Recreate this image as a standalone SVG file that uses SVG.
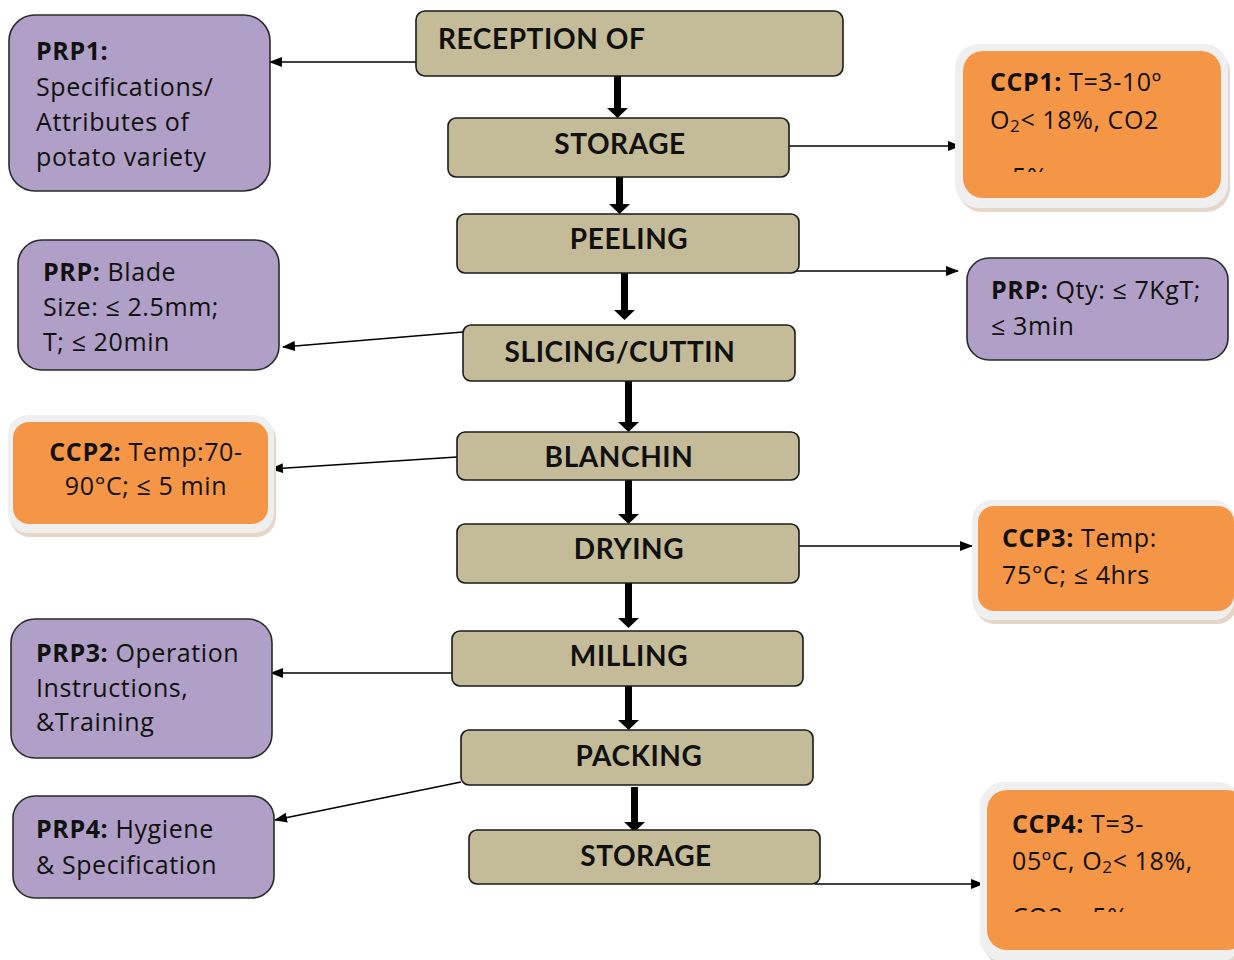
<svg xmlns="http://www.w3.org/2000/svg" width="1234" height="960" viewBox="0 0 1234 960">
  <style>
    .step rect { fill: #C4BC98; stroke: #1a1a1a; stroke-width: 1.6; }
    .step text { font-family: Lato, "DejaVu Sans", sans-serif; font-weight: 700; font-size: 28px; letter-spacing: 0.6px; fill: #111; text-anchor: middle; }
    .prp rect { fill: #B09FC6; stroke: #2a2a2a; stroke-width: 1.6; }
    .ccp .frame { fill: #EFEFEF; }
    .ccp .shade { fill: #E6D6C8; }
    .ccp .core { fill: #F59646; }
    .note { font-family: "Open Sans", Lato, sans-serif; font-size: 25px; letter-spacing: 0.6px; fill: #111; }
    .note .b { font-weight: 700; }
    .thin { stroke: #000; stroke-width: 1.6; fill: none; marker-end: url(#tip); }
    .flow { fill: #000; }
  </style>
  <defs>
    <marker id="tip" viewBox="0 0 13 10" refX="12" refY="5" markerWidth="13" markerHeight="10" markerUnits="userSpaceOnUse" orient="auto">
      <path d="M0,0 L13,5 L0,10 z" fill="#000"/>
    </marker>
    <clipPath id="cut1"><rect x="980" y="160" width="200" height="12"/></clipPath>
    <clipPath id="cut4"><rect x="1000" y="900" width="200" height="12"/></clipPath>
  </defs>

  <rect width="1234" height="960" fill="#fff"/>

  <!-- connectors -->
  <g id="connectors">
    <!-- thick process arrows -->
    <g class="flow">
      <path d="M614,69 h7 v39 h7 l-10.5,10 l-10.5,-10 h7 z"/>
      <path d="M616,177 h7 v27 h7 l-10.5,10 l-10.5,-10 h7 z"/>
      <path d="M621,273 h7 v37 h7 l-10.5,10 l-10.5,-10 h7 z"/>
      <path d="M625,381 h7 v41 h7 l-10.5,10 l-10.5,-10 h7 z"/>
      <path d="M625,480 h7 v34 h7 l-10.5,10 l-10.5,-10 h7 z"/>
      <path d="M625,583 h7 v35 h7 l-10.5,10 l-10.5,-10 h7 z"/>
      <path d="M625,686 h7 v34 h7 l-10.5,10 l-10.5,-10 h7 z"/>
      <path d="M631,787 h7 v35 h7 l-10.5,10 l-10.5,-10 h7 z"/>
    </g>
    <!-- links to control points -->
    <line class="thin" x1="416" y1="62" x2="270" y2="62"/>
    <line class="thin" x1="789" y1="146" x2="960" y2="146"/>
    <line class="thin" x1="787" y1="271" x2="958" y2="271"/>
    <line class="thin" x1="463" y1="332" x2="283" y2="347"/>
    <line class="thin" x1="457" y1="457" x2="271" y2="469"/>
    <line class="thin" x1="799" y1="546" x2="972" y2="546"/>
    <line class="thin" x1="452" y1="673" x2="271" y2="673"/>
    <line class="thin" x1="461" y1="782" x2="275" y2="820"/>
    <line class="thin" x1="815" y1="884" x2="983" y2="884"/>
  </g>

  <!-- process steps -->
  <g id="reception" class="step">
    <rect x="416" y="11" width="427" height="65" rx="9"/>
    <text x="438" y="49" style="text-anchor:start">RECEPTION OF</text>
  </g>
  <g id="storage1" class="step">
    <rect x="448" y="118" width="341" height="59" rx="8"/>
    <text x="620" y="154">STORAGE</text>
  </g>
  <g id="peeling" class="step">
    <rect x="457" y="214" width="342" height="59" rx="8"/>
    <text x="629" y="249">PEELING</text>
  </g>
  <g id="slicing" class="step">
    <rect x="463" y="325" width="332" height="56" rx="8"/>
    <text x="620" y="362">SLICING/CUTTIN</text>
  </g>
  <g id="blanching" class="step">
    <rect x="457" y="432" width="342" height="48" rx="8"/>
    <text x="619" y="467">BLANCHIN</text>
  </g>
  <g id="drying" class="step">
    <rect x="457" y="524" width="342" height="59" rx="8"/>
    <text x="629" y="559">DRYING</text>
  </g>
  <g id="milling" class="step">
    <rect x="452" y="631" width="351" height="55" rx="8"/>
    <text x="629" y="666">MILLING</text>
  </g>
  <g id="packing" class="step">
    <rect x="461" y="730" width="352" height="55" rx="8"/>
    <text x="639" y="766">PACKING</text>
  </g>
  <g id="storage2" class="step">
    <rect x="469" y="830" width="351" height="54" rx="8"/>
    <text x="646" y="866">STORAGE</text>
  </g>

  <!-- prerequisite programmes -->
  <g id="prp1" class="prp">
    <rect x="9" y="15" width="261" height="176" rx="26"/>
    <text class="note" x="36" y="60"><tspan class="b">PRP1:</tspan></text>
    <text class="note" x="36" y="96">Specifications/</text>
    <text class="note" x="36" y="131">Attributes of</text>
    <text class="note" x="36" y="166">potato variety</text>
  </g>
  <g id="prp-blade" class="prp">
    <rect x="18" y="240" width="261" height="130" rx="24"/>
    <text class="note" x="43" y="281"><tspan class="b">PRP:</tspan> Blade</text>
    <text class="note" x="43" y="316">Size: ≤ 2.5mm;</text>
    <text class="note" x="43" y="351">T; ≤ 20min</text>
  </g>
  <g id="prp-qty" class="prp">
    <rect x="967" y="258" width="261" height="102" rx="22"/>
    <text class="note" x="991" y="299"><tspan class="b">PRP:</tspan> Qty: ≤ 7KgT;</text>
    <text class="note" x="991" y="335">≤ 3min</text>
  </g>
  <g id="prp3" class="prp">
    <rect x="11" y="619" width="261" height="139" rx="24"/>
    <text class="note" x="36" y="662"><tspan class="b">PRP3:</tspan> Operation</text>
    <text class="note" x="36" y="697">Instructions,</text>
    <text class="note" x="36" y="731">&amp;Training</text>
  </g>
  <g id="prp4" class="prp">
    <rect x="13" y="796" width="261" height="102" rx="22"/>
    <text class="note" x="36" y="838"><tspan class="b">PRP4:</tspan> Hygiene</text>
    <text class="note" x="36" y="874">&amp; Specification</text>
  </g>

  <!-- critical control points -->
  <g id="ccp1" class="ccp">
    <rect class="shade" x="958" y="48" width="272" height="164" rx="24"/>
    <rect class="frame" x="955" y="44" width="273" height="164" rx="24"/>
    <rect class="core" x="963" y="51" width="258" height="147" rx="20"/>
    <text class="note" x="990" y="91"><tspan class="b">CCP1:</tspan> T=3-10º</text>
    <text class="note" x="990" y="129">O<tspan font-size="17" dy="3">2</tspan><tspan dy="-3">&lt; 18%, CO2</tspan></text>
    <text class="note" x="990" y="186" clip-path="url(#cut1)">~ 5%</text>
  </g>
  <g id="ccp2" class="ccp">
    <rect class="shade" x="10" y="419" width="266" height="118" rx="20"/>
    <rect class="frame" x="8" y="415" width="266" height="118" rx="20"/>
    <rect class="core" x="13" y="422" width="255" height="102" rx="16"/>
    <text class="note" x="146" y="461" text-anchor="middle"><tspan class="b">CCP2:</tspan> Temp:70-</text>
    <text class="note" x="146" y="495" text-anchor="middle">90°C; ≤ 5 min</text>
  </g>
  <g id="ccp3" class="ccp">
    <rect class="shade" x="975" y="504" width="262" height="120" rx="20"/>
    <rect class="frame" x="972" y="500" width="262" height="120" rx="20"/>
    <rect class="core" x="978" y="506" width="256" height="105" rx="16"/>
    <text class="note" x="1002" y="547"><tspan class="b">CCP3:</tspan> Temp:</text>
    <text class="note" x="1002" y="584">75°C; ≤ 4hrs</text>
  </g>
  <g id="ccp4" class="ccp">
    <rect class="shade" x="983" y="786" width="260" height="180" rx="24"/>
    <rect class="frame" x="980" y="782" width="262" height="180" rx="24"/>
    <rect class="core" x="987" y="790" width="260" height="160" rx="20"/>
    <text class="note" x="1012" y="833"><tspan class="b">CCP4:</tspan> T=3-</text>
    <text class="note" x="1012" y="870">05ºC, O<tspan font-size="17" dy="3">2</tspan><tspan dy="-3">&lt; 18%,</tspan></text>
    <text class="note" x="1012" y="926" clip-path="url(#cut4)">CO2 ~ 5%</text>
  </g>
</svg>
